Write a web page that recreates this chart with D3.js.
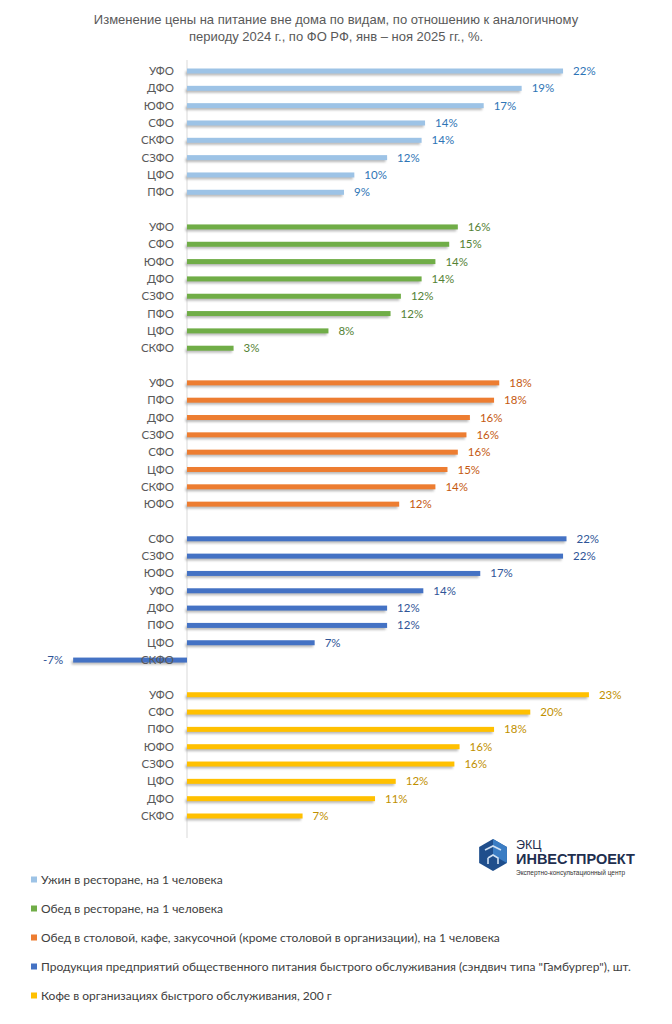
<!DOCTYPE html>
<html>
<head>
<meta charset="utf-8">
<script src="https://cdn.jsdelivr.net/npm/d3@7"></script>
<style>
  body { margin: 0; background: #fff; }
  svg { display: block; }
</style>
</head>
<body>
<div id="chart"></div>
<script>
// series names (legend)
const seriesNames = [
    "Ужин в ресторане, на 1 человека",
    "Обед в ресторане, на 1 человека",
    "Обед в столовой, кафе, закусочной (кроме столовой в организации), на 1 человека",
    "Продукция предприятий общественного питания быстрого обслуживания (сэндвич типа \"Гамбургер\"), шт.",
    "Кофе в организациях быстрого обслуживания, 200 г"
];
const barColors = ["#9dc3e6", "#70ad47", "#ed7d31", "#4472c4", "#ffc000"];
const labelColors = ["#2e75b6", "#548235", "#c55a11", "#2f5597", "#bf9000"];

// regions per group, top to bottom
const dinnerRegions = ["УФО", "ДФО", "ЮФО", "СФО", "СКФО", "СЗФО", "ЦФО", "ПФО"];
const dinnerValues = [21.8, 19.4, 17.2, 13.8, 13.6, 11.6, 9.7, 9.1];

const lunchRegions = ["УФО", "СФО", "ЮФО", "ДФО", "СЗФО", "ПФО", "ЦФО", "СКФО"];
const lunchValues = [15.7, 15.2, 14.4, 13.6, 12.4, 11.8, 8.2, 2.7];

const canteenRegions = ["УФО", "ПФО", "ДФО", "СЗФО", "СФО", "ЦФО", "СКФО", "ЮФО"];
const canteenValues = [18.1, 17.8, 16.4, 16.2, 15.7, 15.1, 14.4, 12.3];

const burgerRegions = ["СФО", "СЗФО", "ЮФО", "УФО", "ДФО", "ПФО", "ЦФО", "СКФО"];
const burgerValues = [22.0, 21.8, 17.0, 13.7, 11.6, 11.6, 7.4, -6.6];

const coffeeRegions = ["УФО", "СФО", "ПФО", "ЮФО", "СЗФО", "ЦФО", "ДФО", "СКФО"];
const coffeeValues = [23.3, 19.9, 17.8, 15.8, 15.5, 12.1, 10.9, 6.7];

const groups = [
    [dinnerRegions, dinnerValues],
    [lunchRegions, lunchValues],
    [canteenRegions, canteenValues],
    [burgerRegions, burgerValues],
    [coffeeRegions, coffeeValues]
];

const width = 672, height = 1024;
const svg = d3.select("#chart").append("svg")
    .attr("width", width)
    .attr("height", height);

// soft shadow under bars
const defs = svg.append("defs");
defs.append("filter").attr("id", "blur")
    .attr("x", "-5%").attr("y", "-100%").attr("width", "110%").attr("height", "300%")
    .append("feGaussianBlur").attr("stdDeviation", 0.9);

// title
svg.append("text")
    .attr("x", 336).attr("y", 24)
    .attr("text-anchor", "middle")
    .attr("font-family", "Liberation Sans, Arial, sans-serif")
    .attr("font-size", 13)
    .attr("fill", "#595959")
    .selectAll("tspan")
    .data(["Изменение цены на питание вне дома по видам, по отношению к аналогичному",
           "периоду 2024 г., по ФО РФ, янв – ноя 2025 гг., %."])
    .join("tspan")
    .attr("x", 336)
    .attr("dy", (d, i) => i === 0 ? 0 : 17)
    .text(d => d);

// flatten rows, leaving one empty row between groups
const rows = [];
groups.forEach(([regions, values], gi) => {
    regions.forEach((r, i) => rows.push({ key: gi + "-" + i, group: gi, region: r, value: values[i] }));
    if (gi < groups.length - 1) rows.push({ key: "gap-" + gi, group: -1 });
});

const x = d3.scaleLinear().domain([-10, 25]).range([14.5, 618.25]);
const y = d3.scalePoint().domain(rows.map(d => d.key)).range([71, 816]);

const data = rows.filter(d => d.group >= 0);
const barH = 5;
const pct = v => Math.round(v) + "%";

// vertical axis line
svg.append("line")
    .attr("x1", x(0)).attr("x2", x(0))
    .attr("y1", 60).attr("y2", 838)
    .attr("stroke", "#d9d9d9").attr("stroke-width", 1);

// shadows
svg.append("g").selectAll("rect")
    .data(data)
    .join("rect")
    .attr("x", d => Math.min(x(0), x(d.value)) - 1.5)
    .attr("y", d => y(d.key) - barH / 2 + 3)
    .attr("width", d => Math.abs(x(d.value) - x(0)))
    .attr("height", barH - 1)
    .attr("fill", "#a6a6a6")
    .attr("opacity", 0.75)
    .attr("filter", "url(#blur)");

// bars
svg.append("g").selectAll("rect")
    .data(data)
    .join("rect")
    .attr("x", d => Math.min(x(0), x(d.value)))
    .attr("y", d => y(d.key) - barH / 2)
    .attr("width", d => Math.abs(x(d.value) - x(0)))
    .attr("height", barH)
    .attr("fill", d => barColors[d.group]);

// category labels
svg.append("g").selectAll("text")
    .data(data)
    .join("text")
    .attr("x", x(0) - 13)
    .attr("y", d => y(d.key))
    .attr("dy", "0.35em")
    .attr("text-anchor", "end")
    .attr("font-family", "Lato, Carlito, sans-serif")
    .attr("font-size", 11.5)
    .attr("fill", "#595959")
    .text(d => d.region);

// value labels
svg.append("g").selectAll("text")
    .data(data)
    .join("text")
    .attr("x", d => d.value >= 0 ? x(d.value) + 10 : x(d.value) - 10)
    .attr("y", d => y(d.key))
    .attr("dy", "0.35em")
    .attr("text-anchor", d => d.value >= 0 ? "start" : "end")
    .attr("font-family", "Lato, Carlito, sans-serif")
    .attr("font-size", 11.5)
    .attr("fill", d => labelColors[d.group])
    .text(d => pct(d.value));

// legend
const legend = svg.append("g").selectAll("g")
    .data(seriesNames)
    .join("g")
    .attr("transform", (d, i) => `translate(31,${880 + i * 29})`);
legend.append("rect")
    .attr("x", 0).attr("y", -3.5)
    .attr("width", 6).attr("height", 6)
    .attr("fill", (d, i) => barColors[i]);
legend.append("text")
    .attr("x", 10).attr("y", 0)
    .attr("dy", "0.35em")
    .attr("font-family", "Lato, Carlito, sans-serif")
    .attr("font-size", 12)
    .attr("fill", "#404040")
    .text(d => d);

// logo
const logo = svg.append("g").attr("transform", "translate(476,836)");
const hex = d3.range(6).map(i => {
    const a = Math.PI / 3 * i - Math.PI / 2;
    return [17 + 16 * Math.cos(a), 19 + 16 * Math.sin(a)];
});
logo.append("polygon")
    .attr("points", hex.map(p => p.join(",")).join(" "))
    .attr("fill", "#1f4e8c");
logo.append("polygon")
    .attr("points", [[17, 19], hex[0], hex[1], hex[2]].map(p => p.join(",")).join(" "))
    .attr("fill", "#3b7dc4");
logo.append("path")
    .attr("d", "M9,14 L17,10 L25,14 M12,22 L17,19 L22,22 L22,28 M12,22 L12,28")
    .attr("fill", "none").attr("stroke", "#cfe0f3").attr("stroke-width", 1.6);
logo.append("text")
    .attr("x", 40).attr("y", 13)
    .attr("font-family", "Liberation Sans, Arial, sans-serif")
    .attr("font-size", 12.5).attr("fill", "#1f2f4f")
    .text("ЭКЦ");
logo.append("text")
    .attr("x", 40).attr("y", 28)
    .attr("font-family", "Liberation Sans, Arial, sans-serif")
    .attr("font-weight", "bold")
    .attr("font-size", 14.5).attr("fill", "#1f2f4f")
    .text("ИНВЕСТПРОЕКТ");
logo.append("text")
    .attr("x", 40).attr("y", 39)
    .attr("font-family", "Liberation Sans, Arial, sans-serif")
    .attr("font-size", 6.5).attr("fill", "#333")
    .text("Экспертно-консультационный центр");
</script>
</body>
</html>
